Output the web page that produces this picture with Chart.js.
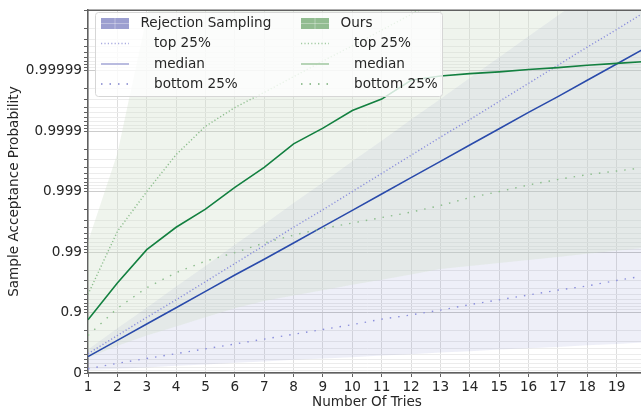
<!DOCTYPE html>
<html>
<head>
<meta charset="utf-8">
<script src="https://cdn.jsdelivr.net/npm/chart.js@4.4.1/dist/chart.umd.min.js"></script>
<style>
  html, body { margin: 0; padding: 0; background: #fff; overflow: hidden; }
  #wrap { width: 660px; height: 414px; }
</style>
</head>
<body>
<div id="wrap"><canvas id="chart" width="660" height="414"></canvas></div>
<script>
// ── data (y values are in "nines": 1 = 0.9, 2 = 0.99, ...) ─────────────
const tries = [1, 2, 3, 4, 5, 6, 7, 8, 9, 10, 11, 12, 13, 14, 15, 16, 17, 18, 19, 20];

const oursMedian = [0.88, 1.49, 2.04, 2.41, 2.71, 3.07, 3.40, 3.79, 4.05, 4.34, 4.53, 4.84, 4.91, 4.95, 4.98, 5.02, 5.05, 5.09, 5.12, 5.15];
const oursTop    = [1.30, 2.34, 3.00, 3.61, 4.08, 4.39, 4.64, 4.90, 5.16, 5.41, 5.67, 5.93, 6.19];
const oursBottom = [0.62, 1.07, 1.41, 1.66, 1.85, 1.99, 2.15, 2.28, 2.39, 2.48, 2.57, 2.66, 2.77, 2.90, 3.00, 3.11, 3.20, 3.28, 3.34, 3.40];
const oursBandLow  = [0.25, 0.45, 0.62, 0.77, 0.92, 1.07, 1.19, 1.28, 1.37, 1.46, 1.54, 1.63, 1.72, 1.77, 1.82, 1.87, 1.92, 1.97, 2.02, 2.07];
const oursBandHigh = [2.17, 3.63, 5.90, 7.50, 7.50, 7.50, 7.50, 7.50, 7.50, 7.50, 7.50, 7.50, 7.50, 7.50, 7.50, 7.50, 7.50, 7.50, 7.50, 7.50];

const rejMedian = [0.27, 0.54, 0.81, 1.08, 1.35, 1.62, 1.88, 2.15, 2.42, 2.69, 2.96, 3.23, 3.50, 3.77, 4.04, 4.31, 4.57, 4.84, 5.11, 5.38];
const rejTop    = [0.32, 0.62, 0.92, 1.21, 1.51, 1.81, 2.11, 2.41, 2.70, 3.00, 3.30, 3.60, 3.90, 4.19, 4.49, 4.79, 5.09, 5.39, 5.68, 5.98];
const rejBottom = [0.07, 0.16, 0.24, 0.32, 0.40, 0.48, 0.56, 0.64, 0.72, 0.80, 0.89, 0.96, 1.04, 1.13, 1.21, 1.29, 1.37, 1.44, 1.53, 1.61];
const rejBandLow  = [0.05, 0.07, 0.09, 0.12, 0.14, 0.17, 0.19, 0.22, 0.24, 0.26, 0.29, 0.31, 0.34, 0.36, 0.39, 0.41, 0.43, 0.46, 0.48, 0.51];
const rejBandHigh = [0.39, 0.74, 1.08, 1.43, 1.77, 2.12, 2.46, 2.81, 3.15, 3.50, 3.84, 4.19, 4.53, 4.88, 5.22, 5.57, 5.91, 6.26, 6.60, 6.95];

const yMajorValues = [0, 1, 2, 3, 4, 5, 6];
const yMajorLabels = ['0', '0.9', '0.99', '0.999', '0.9999', '0.99999', ''];

const FONT = 'DejaVu Sans';
const TEXT = '#262626';

const BLUE = '#2a4bab';
const BLUE_DOT = '#8b8fdc';
const GREEN = '#138040';
const GREEN_DOT = '#8cbd8c';

function pts(arr) {
    return arr.map((y, i) => ({ x: tries[i], y: y }));
}

function line(label, arr, color, dash, order) {
    return {
        label: label,
        data: pts(arr),
        borderColor: color,
        borderWidth: dash.length ? 1.4 : 1.6,
        borderDash: dash,
        fill: false,
        order: order
    };
}

function band(label, arr, fill, color, order) {
    return {
        label: label,
        data: pts(arr),
        borderColor: 'transparent',
        borderWidth: 0,
        backgroundColor: color,
        fill: fill,
        order: order
    };
}

// extra frame line + the two-column legend, drawn over the plot
const decorPlugin = {
    id: 'decor',
    afterDraw(chart) {
        const { ctx, chartArea } = chart;
        ctx.save();

        ctx.strokeStyle = '#606060';
        ctx.lineWidth = 1.5;
        ctx.beginPath();
        ctx.moveTo(chartArea.left, chartArea.top);
        ctx.lineTo(chartArea.right, chartArea.top);
        ctx.lineTo(chartArea.right, chartArea.bottom);
        ctx.stroke();

        // legend box
        ctx.fillStyle = 'rgba(255,255,255,0.8)';
        ctx.strokeStyle = '#d6d6d6';
        ctx.lineWidth = 1;
        ctx.beginPath();
        ctx.roundRect(95.5, 12.5, 347, 84, 3);
        ctx.fill();
        ctx.stroke();

        const rows = [23.5, 43.5, 64, 84];
        const cols = [
            { x: 101, textX: 140.5, subX: 154, title: 'Rejection Sampling',
              patch: '#9c9fd0', top: '#a9abdf', med: '#a3a6d6', bot: '#7f83cc' },
            { x: 301, textX: 340.5, subX: 354, title: 'Ours',
              patch: '#92bc91', top: '#a3cba3', med: '#9fc79f', bot: '#77ae77' }
        ];

        ctx.font = '13.6px "' + FONT + '"';
        ctx.textBaseline = 'middle';
        ctx.textAlign = 'left';

        cols.forEach(c => {
            ctx.fillStyle = c.patch;
            ctx.fillRect(c.x, rows[0] - 5.5, 28, 11);
            ctx.strokeStyle = 'rgba(255,255,255,0.35)';
            ctx.lineWidth = 1;
            ctx.beginPath();
            ctx.moveTo(c.x + 14, rows[0] - 5.5);
            ctx.lineTo(c.x + 14, rows[0] + 5.5);
            ctx.moveTo(c.x, rows[0]);
            ctx.lineTo(c.x + 28, rows[0]);
            ctx.stroke();

            const handles = [
                [c.top, [1.2, 2.2]],
                [c.med, []],
                [c.bot, [1.5, 7]]
            ];
            handles.forEach(([col, dash], i) => {
                ctx.strokeStyle = col;
                ctx.lineWidth = 1.5;
                ctx.setLineDash(dash);
                ctx.beginPath();
                ctx.moveTo(c.x, rows[i + 1]);
                ctx.lineTo(c.x + 28, rows[i + 1]);
                ctx.stroke();
            });
            ctx.setLineDash([]);

            ctx.fillStyle = TEXT;
            ctx.fillText(c.title, c.textX, rows[0]);
            ctx.fillText('top 25%', c.subX, rows[1]);
            ctx.fillText('median', c.subX, rows[2]);
            ctx.fillText('bottom 25%', c.subX, rows[3]);
        });

        ctx.restore();
    }
};

new Chart(document.getElementById('chart'), {
    type: 'line',
    data: {
        datasets: [
            line('Ours median', oursMedian, GREEN, [], 1),
            line('Ours top 25%', oursTop, GREEN_DOT, [1.2, 2.2], 2),
            line('Ours bottom 25%', oursBottom, GREEN_DOT, [1.5, 7], 2),
            line('Rejection median', rejMedian, BLUE, [], 3),
            line('Rejection top 25%', rejTop, BLUE_DOT, [1.2, 2.2], 4),
            line('Rejection bottom 25%', rejBottom, BLUE_DOT, [1.5, 7], 4),
            band('Ours low', oursBandLow, false, 'transparent', 10),
            band('Ours high', oursBandHigh, '-1', 'rgba(209,224,204,0.35)', 10),
            band('Rejection low', rejBandLow, false, 'transparent', 11),
            band('Rejection high', rejBandHigh, '-1', 'rgba(60,70,170,0.085)', 11)
        ]
    },
    options: {
        responsive: false,
        animation: false,
        events: [],
        devicePixelRatio: 1,
        layout: { padding: { top: 5, right: 14, bottom: 0, left: 0 } },
        elements: {
            point: { radius: 0 },
            line: { tension: 0 }
        },
        plugins: {
            legend: { display: false },
            tooltip: { enabled: false }
        },
        scales: {
            x: {
                type: 'linear',
                min: 1,
                max: 20,
                afterFit(scale) { scale.height = 41; },
                ticks: {
                    stepSize: 1,
                    autoSkip: false,
                    maxRotation: 0,
                    padding: 2,
                    color: TEXT,
                    font: { family: FONT, size: 13.6 },
                    callback: v => (v >= 20 ? '' : String(v))
                },
                grid: {
                    color: 'rgba(0,0,0,0.13)',
                    lineWidth: 1,
                    tickLength: 4,
                    tickColor: '#606060'
                },
                border: { color: '#606060', width: 1.5 },
                title: {
                    display: true,
                    text: 'Number Of Tries',
                    color: TEXT,
                    font: { family: FONT, size: 13.6 },
                    padding: { top: 0, bottom: 3 }
                }
            },
            y: {
                type: 'linear',
                min: 0,
                max: 6,
                afterFit(scale) { scale.width = 88; },
                afterBuildTicks(scale) {
                    const t = [];
                    for (let k = 0; k < 6; k++) {
                        t.push({ value: k, major: true });
                        for (let m = 9; m >= 2; m--) {
                            t.push({ value: k + 1 - Math.log10(m), major: false });
                        }
                    }
                    t.push({ value: 6, major: true });
                    scale.ticks = t;
                },
                ticks: {
                    autoSkip: false,
                    padding: 2,
                    color: TEXT,
                    font: { family: FONT, size: 13.6 },
                    callback: v => {
                        const i = yMajorValues.indexOf(v);
                        return i >= 0 ? yMajorLabels[i] : '';
                    }
                },
                grid: {
                    color: c => (c.tick && c.tick.major ? '#cccccc' : '#ececec'),
                    lineWidth: 1,
                    tickLength: 4,
                    tickColor: '#606060'
                },
                border: { color: '#606060', width: 1.5 },
                title: {
                    display: true,
                    text: 'Sample Acceptance Probability',
                    color: TEXT,
                    font: { family: FONT, size: 13.6 },
                    padding: { top: 6, bottom: 0 }
                }
            }
        }
    },
    plugins: [decorPlugin]
});
</script>
</body>
</html>
